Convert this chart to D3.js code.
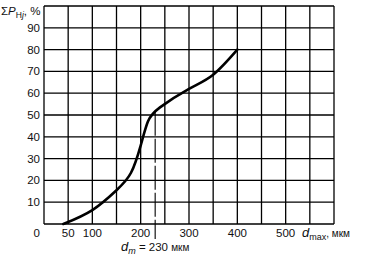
<!DOCTYPE html>
<html>
<head>
<meta charset="utf-8">
<script src="https://cdn.jsdelivr.net/npm/d3@7"></script>
<style>
  body { margin: 0; background: #fff; }
  svg { display: block; font-family: "Liberation Sans", Arial, sans-serif; }
  .grid line { stroke: #000; stroke-width: 1.3; }
  .tick-label { font-size: 11.5px; fill: #111; }
  .curve { fill: none; stroke: #000; stroke-width: 2.6; stroke-linecap: round; }
  .dm { stroke: #000; stroke-width: 1.1; stroke-dasharray: 24,3; }
</style>
</head>
<body>
<script>
let width = 365
let height = 260

const margin = { top: 6, right: 31, bottom: 36, left: 44 };
let plotWidth = width - margin.left - margin.right;
let plotHeight = height - margin.top - margin.bottom;

// data
let dValues = [40, 100, 150, 180, 200, 215, 240, 300, 350, 400];
let pValues = [0, 6.4, 15.5, 23.5, 36, 47, 53.5, 62, 68.5, 80];
let xTickLabels = [50, 100, 200, 300, 400, 500];
let yTickLabels = [10, 20, 30, 40, 50, 60, 70, 80, 90];
let dm = 230;

let x = d3.scaleLinear().domain([0, 600]).range([0, plotWidth]);
let y = d3.scaleLinear().domain([0, 100]).range([plotHeight, 0]);

let svg = d3.select('body')
    .append('svg')
    .attr('width', width)
    .attr('height', height);

let plot = svg.append('g').attr('transform', `translate(${ margin.left },${ margin.top })`);

let grid = plot.append('g').attr('class', 'grid');
grid.selectAll('line.v').data(d3.range(0, 601, 50))
    .join('line')
    .attr('class', 'v')
    .attr('x1', d => x(d)).attr('x2', d => x(d))
    .attr('y1', 0).attr('y2', plotHeight);
grid.selectAll('line.h').data(d3.range(0, 101, 10))
    .join('line')
    .attr('class', 'h')
    .attr('x1', 0).attr('x2', plotWidth)
    .attr('y1', d => y(d)).attr('y2', d => y(d));

// dashed d_m marker
let pts = dValues.map((d, i) => [d, pValues[i]]);
let lineGen = d3.line().x(d => x(d[0])).y(d => y(d[1])).curve(d3.curveNatural);

plot.append('line')
    .attr('class', 'dm')
    .attr('x1', x(dm)).attr('x2', x(dm))
    .attr('y1', y(51.5)).attr('y2', plotHeight + 15);

plot.append('path').datum(pts)
    .attr('class', 'curve')
    .attr('d', lineGen);

// tick labels
plot.selectAll('text.xl').data(xTickLabels)
    .join('text')
    .attr('class', 'tick-label xl')
    .attr('x', d => x(d))
    .attr('y', plotHeight + 13)
    .attr('text-anchor', 'middle')
    .text(d => d);

plot.selectAll('text.yl').data(yTickLabels)
    .join('text')
    .attr('class', 'tick-label yl')
    .attr('x', -4)
    .attr('y', d => y(d) + 4)
    .attr('text-anchor', 'end')
    .text(d => d);

plot.append('text')
    .attr('class', 'tick-label')
    .attr('x', -4).attr('y', plotHeight + 13)
    .attr('text-anchor', 'end')
    .text('0');

// axis titles
let yt = svg.append('text').attr('class', 'tick-label').attr('x', 1).attr('y', 15);
yt.append('tspan').text('Σ');
yt.append('tspan').style('font-style', 'italic').text('P');
yt.append('tspan').attr('dy', 3).style('font-size', '8.5px').text('Н');
yt.append('tspan').style('font-size', '8.5px').style('font-style', 'italic').text('j');
yt.append('tspan').attr('dy', -3).text(', %');

let xt = svg.append('text').attr('class', 'tick-label').attr('x', 302).attr('y', margin.top + plotHeight + 13);
xt.append('tspan').style('font-style', 'italic').style('font-size', '13px').text('d');
xt.append('tspan').attr('dy', 3).style('font-size', '9px').text('max');
xt.append('tspan').attr('dy', -3).style('font-size', '10px').text(', мкм');

let dt = svg.append('text').attr('class', 'tick-label')
    .attr('x', margin.left + x(dm)).attr('y', margin.top + plotHeight + 27)
    .attr('text-anchor', 'middle');
dt.append('tspan').style('font-style', 'italic').style('font-size', '13px').text('d');
dt.append('tspan').attr('dy', 3).style('font-size', '9px').style('font-style', 'italic').text('m');
dt.append('tspan').attr('dy', -3).text(' = 230 ');
dt.append('tspan').style('font-size', '10px').text('мкм');
</script>
</body>
</html>
